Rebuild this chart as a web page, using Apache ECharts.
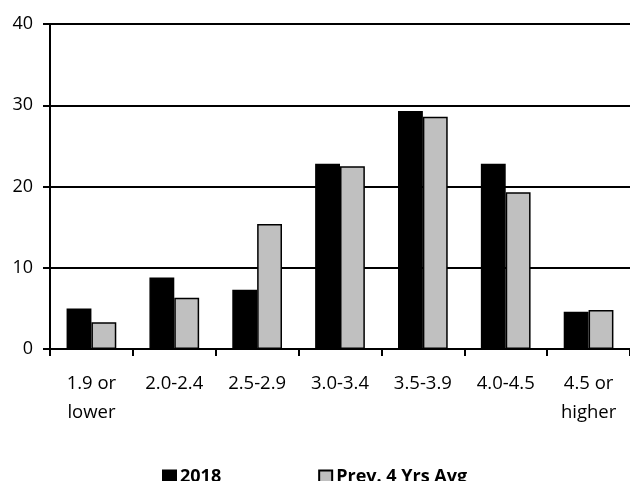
<!DOCTYPE html>
<html>
<head>
<meta charset="utf-8">
<script src="https://cdn.jsdelivr.net/npm/echarts@6/dist/echarts.min.js"></script>
<style>
html,body{margin:0;padding:0;background:#fff;}
#c{width:630px;height:481px;}
</style>
</head>
<body>
<div id="c"></div>
<script>
var categories = ['1.9 or\nlower', '2.0-2.4', '2.5-2.9', '3.0-3.4', '3.5-3.9', '4.0-4.5', '4.5 or\nhigher'];
var series2018 = [5.0, 8.8, 7.3, 22.8, 29.3, 22.8, 4.6];
var seriesPrev = [3.3, 6.3, 15.4, 22.5, 28.6, 19.3, 4.8];
var seriesNames = ['2018', 'Prev. 4 Yrs Avg'];
var yTicks = {min: 0, max: 40, interval: 10};

var chart = echarts.init(document.getElementById('c'));
var fontFam = '"Open Sans", "Noto Sans", sans-serif';
chart.setOption({
  animation: false,
  backgroundColor: '#fff',
  grid: {left: 50, top: 24, right: -5, bottom: 132, containLabel: false},
  legend: {
    left: 157, top: 463, itemWidth: 13, itemHeight: 13, itemGap: 97,
    icon: 'rect',
    textStyle: {fontFamily: fontFam, fontWeight: 'bold', fontSize: 18, color: '#000', padding: [0,0,0,-1]},
    data: seriesNames
  },
  xAxis: {
    type: 'category',
    data: categories,
    axisLine: {lineStyle: {color: '#000', width: 2}},
    axisTick: {show: true, length: 7, lineStyle: {color: '#000', width: 2}},
    axisLabel: {fontFamily: fontFam, fontSize: 18.5, color: '#000', margin: 20, lineHeight: 29, interval: 0}
  },
  yAxis: {
    type: 'value',
    min: yTicks.min, max: yTicks.max, interval: yTicks.interval,
    axisLine: {show: true, lineStyle: {color: '#000', width: 2}},
    axisTick: {show: true, length: 7, lineStyle: {color: '#000', width: 2}},
    axisLabel: {fontFamily: fontFam, fontSize: 18, color: '#000', margin: 17},
    splitLine: {show: true, lineStyle: {color: '#000', width: 2}}
  },
  series: [
    {
      name: seriesNames[0], type: 'bar', data: series2018,
      barGap: '0%', barCategoryGap: '40%',
      itemStyle: {color: '#000', borderColor: '#000', borderWidth: 1.5}
    },
    {
      name: seriesNames[1], type: 'bar', data: seriesPrev,
      barGap: '0%', barCategoryGap: '40%',
      itemStyle: {color: '#c0c0c0', borderColor: '#000', borderWidth: 1.5}
    }
  ]
});
</script>
</body>
</html>
